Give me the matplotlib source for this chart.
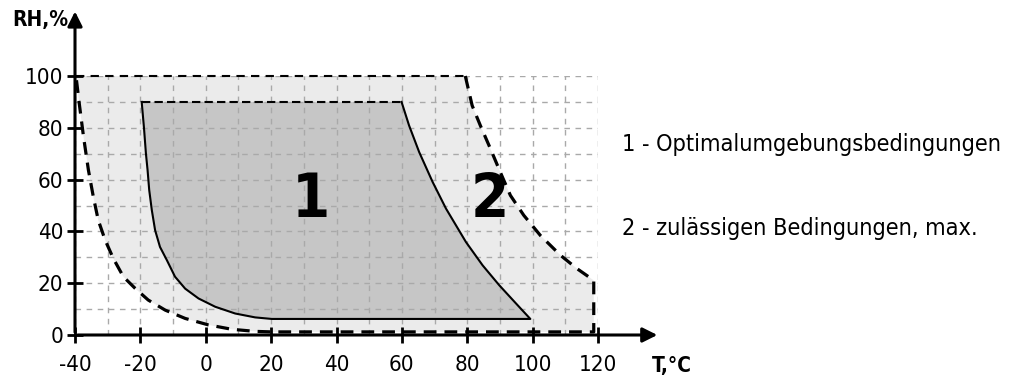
import matplotlib.pyplot as plt
import matplotlib.ticker as mticker

# Zone 2 - zulässige Bedingungen (Außengrenze, im Uhrzeigersinn)
zone2_t = [-39.7, 79.4, 81.5, 84.0, 87.1, 90.1, 93.2, 97.3, 102.4, 108.5, 113.6, 118.7,
           118.7, 20.2, 15.1, 8.0, 0.8, -6.3, -12.4, -17.6, -21.6, -25.2, -28.3,
           -30.8, -32.9, -34.4, -35.9, -37.4, -38.7, -39.7]
zone2_rh = [100, 100, 88.6, 80.9, 71.9, 62.9, 53.9, 46.2, 38.4, 30.8, 25.6, 21.1,
            1.2, 1.2, 1.4, 2.2, 3.9, 6.4, 9.6, 13.5, 18.0, 22.5, 29.6,
            36.7, 44.4, 53.4, 63.7, 76.6, 89.4, 100]

# Zone 1 - Optimalumgebungsbedingungen
zone1_t = [-19.6, 59.9, 62.2, 65.3, 69.4, 73.5, 79.6, 84.7, 89.8, 94.9, 99.3,
           20.2, 15.1, 9.0, 2.9, -2.2, -6.3, -9.4, -11.9, -14.0, -15.5,
           -16.5, -17.3, -17.8, -18.3, -18.9, -19.6]
zone1_rh = [90, 90, 80.9, 70.6, 59.1, 48.8, 35.9, 26.9, 19.2, 12.2, 6.2,
            6.2, 6.8, 8.3, 10.9, 14.1, 17.9, 22.5, 28.9, 34.0, 40.5,
            48.2, 56.0, 63.7, 70, 80, 90]

x_ticks = [-40, -20, 0, 20, 40, 60, 80, 100, 120]
y_ticks = [0, 20, 40, 60, 80, 100]
legend_lines = ['1 - Optimalumgebungsbedingungen', '2 - zulässigen Bedingungen, max.']

plt.rcParams['font.family'] = ['DejaVu Sans']
plt.rcParams['font.stretch'] = 'condensed'

fig = plt.figure(figsize=(10.15, 3.83), dpi=100)
ax = fig.add_axes([75/1015, 48/383, 523/1015, 259/383])
ax.set_xlim(-40, 120)
ax.set_ylim(0, 100)

# Flächen
ax.fill(zone2_t, zone2_rh, color='#ebebeb', zorder=0, lw=0)
ax.fill(zone1_t, zone1_rh, color='#c6c6c6', zorder=1, lw=0)

# Gitter
ax.xaxis.set_minor_locator(mticker.MultipleLocator(10))
ax.yaxis.set_minor_locator(mticker.MultipleLocator(10))
ax.grid(which='both', color='#a9a9a9', ls=(0, (4, 4)), lw=1, zorder=2)
ax.set_axisbelow(False)

# Zone 2 Rand (gestrichelt)
ax.plot(zone2_t[0:2], zone2_rh[0:2], color='k', ls=(0, (4, 3)), lw=1.5, zorder=4, clip_on=False)
ax.plot(zone2_t[1:], zone2_rh[1:], color='k', ls=(0, (4, 2.5)), lw=2.3, zorder=4,
        clip_on=False, solid_joinstyle='round')

# Zone 1 Rand
ax.plot(zone1_t[0:2], zone1_rh[0:2], color='k', ls=(0, (4, 2)), lw=1.5, zorder=4)
ax.plot(zone1_t[1:], zone1_rh[1:], color='k', lw=1.5, zorder=4, solid_joinstyle='round')

# Achsen mit Pfeilen
for s in ax.spines.values():
    s.set_visible(False)
ax.annotate('', xy=(139, 0), xytext=(-40, 0), xycoords='data',
            arrowprops=dict(arrowstyle='-|>', color='k', lw=2.2, mutation_scale=22),
            annotation_clip=False, zorder=5)
ax.annotate('', xy=(-40, 126), xytext=(-40, 0), xycoords='data',
            arrowprops=dict(arrowstyle='-|>', color='k', lw=2.2, mutation_scale=22),
            annotation_clip=False, zorder=5)

ax.set_xticks(x_ticks)
ax.set_yticks(y_ticks)
ax.tick_params(which='major', direction='inout', length=11, width=2, labelsize=16)
ax.tick_params(axis='x', pad=9)
ax.tick_params(axis='y', pad=3)
ax.tick_params(which='minor', length=0)
ax.set_xticklabels([str(v) for v in x_ticks])
ax.set_yticklabels([str(v) for v in y_ticks])

ax.text(136.5, -12, 'T,°C', fontsize=15, fontweight='bold', ha='left', va='center', clip_on=False)
ax.text(-42, 121.5, 'RH,%', fontsize=15, fontweight='bold', ha='right', va='center', clip_on=False)

ax.text(32.3, 52, '1', fontsize=44, fontweight='bold', ha='center', va='center', zorder=6)
ax.text(86.8, 52, '2', fontsize=44, fontweight='bold', ha='center', va='center', zorder=6)

fig.text(622/1015, 1 - 145/383, legend_lines[0], fontsize=16.8, ha='left', va='center')
fig.text(622/1015, 1 - 229/383, legend_lines[1], fontsize=16.8, ha='left', va='center')

fig.savefig('out.png', dpi=100)
